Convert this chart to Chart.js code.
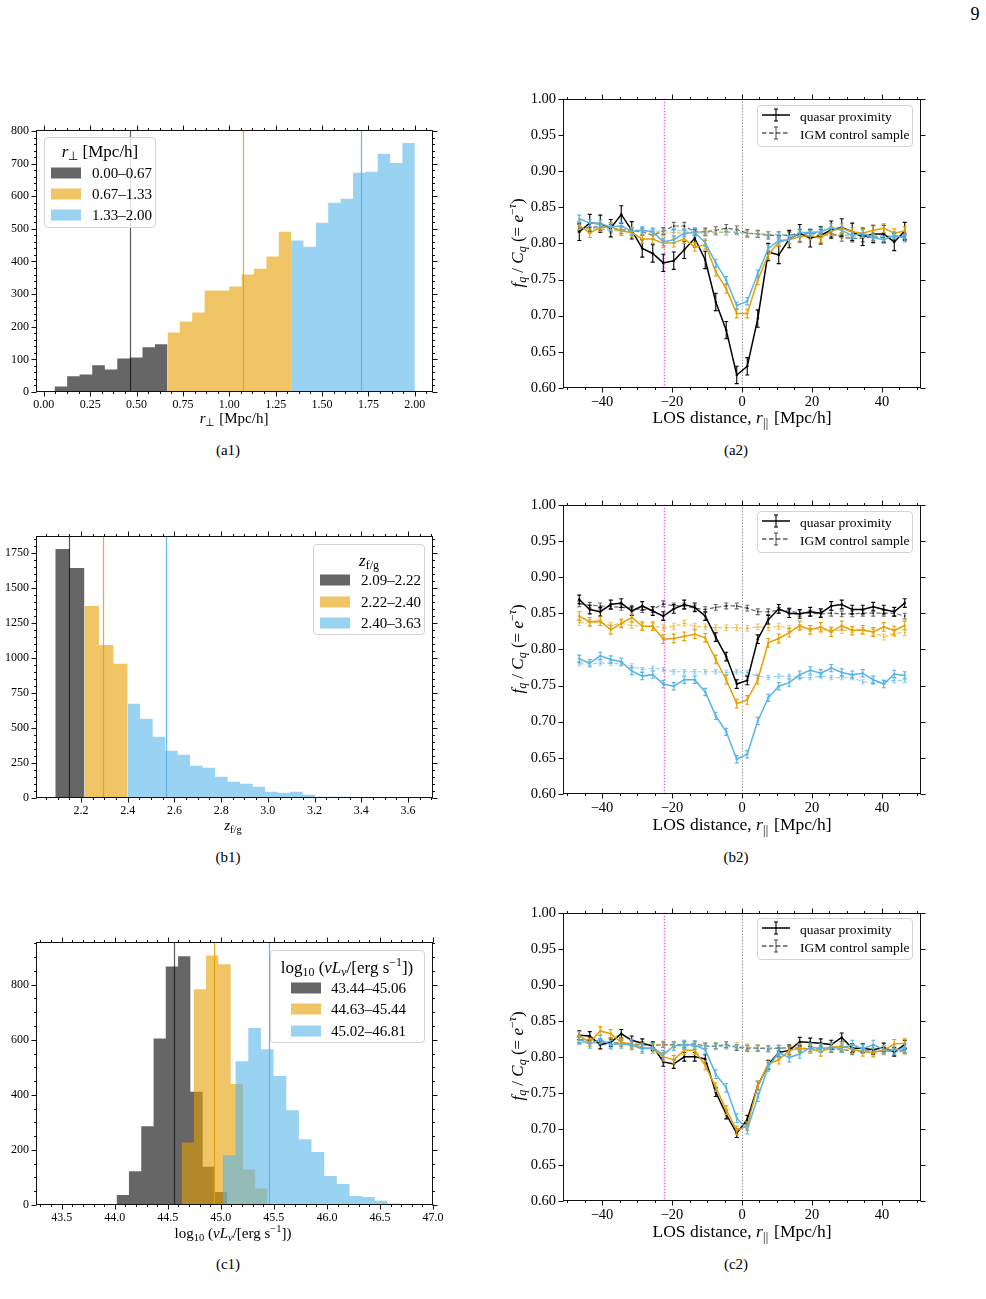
<!DOCTYPE html>
<html>
<head>
<meta charset="utf-8">
<title>Proximity effect panels</title>
<script src="https://cdn.jsdelivr.net/npm/chart.js@4.4.1/dist/chart.umd.min.js"></script>
<style>
  body { margin: 0; background: #fff; font-family: "Liberation Serif", "Times New Roman", serif; color: #000; }
  #page { position: relative; width: 986px; height: 1299px; overflow: hidden; }
  canvas { position: absolute; }
  .t { position: absolute; white-space: nowrap; transform: translate(-50%, -50%); line-height: 1; }
  .rot { transform: translate(-50%, -50%) rotate(-90deg); }
  sub, sup { font-size: 70%; line-height: 0; }
  sub { vertical-align: -0.3em; }
  sup { vertical-align: 0.55em; }
  .par { letter-spacing: 0.03em; margin-right: 0.1em; }
  .leg { position: absolute; background: rgba(255,255,255,0.8); border: 1px solid #d4d4d4; border-radius: 4px; box-sizing: border-box; z-index: 2; }
  .lt { position: absolute; transform: translate(-50%, -50%); font-size: 17px; white-space: nowrap; line-height: 1; }
  .lr { position: absolute; transform: translateY(-50%); font-size: 15px; white-space: nowrap; line-height: 1; }
  .sw { position: absolute; width: 30px; height: 11px; transform: translateY(-50%); }
  .rl { position: absolute; transform: translateY(-50%); font-size: 13.5px; white-space: nowrap; line-height: 1; }
  .sym { position: absolute; transform: translateY(-50%); }
</style>
</head>
<body>
<div id="page">
  <div class="t" style="left:975px;top:14px;font-size:18px">9</div>
  <canvas id="a1"></canvas>
  <canvas id="a2"></canvas>
  <canvas id="b1"></canvas>
  <canvas id="b2"></canvas>
  <canvas id="c1"></canvas>
  <canvas id="c2"></canvas>

  <div class="t" style="left:234px;top:418px;font-size:15px"><i>r</i><sub>⊥</sub> [Mpc/h]</div>
  <div class="t" style="left:233px;top:825px;font-size:15px"><i>z</i><sub>f/g</sub></div>
  <div class="t" style="left:233px;top:1233px;font-size:15px">log<sub>10</sub> (<i>νL</i><sub><i>ν</i></sub>/[erg s<sup>−1</sup>])</div>

  <div class="t" style="left:742px;top:418px;font-size:17.5px">LOS distance, <i>r</i><sub class="par">||</sub> [Mpc/h]</div>
  <div class="t" style="left:742px;top:825px;font-size:17.5px">LOS distance, <i>r</i><sub class="par">||</sub> [Mpc/h]</div>
  <div class="t" style="left:742px;top:1232px;font-size:17.5px">LOS distance, <i>r</i><sub class="par">||</sub> [Mpc/h]</div>

  <div class="t rot" style="left:517px;top:243px;font-size:17px"><i>f</i><sub><i>q</i></sub> / <i>C</i><sub><i>q</i></sub> (= <i>e</i><sup>−<i>τ</i></sup>)</div>
  <div class="t rot" style="left:517px;top:649px;font-size:17px"><i>f</i><sub><i>q</i></sub> / <i>C</i><sub><i>q</i></sub> (= <i>e</i><sup>−<i>τ</i></sup>)</div>
  <div class="t rot" style="left:517px;top:1056px;font-size:17px"><i>f</i><sub><i>q</i></sub> / <i>C</i><sub><i>q</i></sub> (= <i>e</i><sup>−<i>τ</i></sup>)</div>

  <div class="t" style="left:228px;top:450px;font-size:15px">(a1)</div>
  <div class="t" style="left:736px;top:450px;font-size:15px">(a2)</div>
  <div class="t" style="left:228px;top:857px;font-size:15px">(b1)</div>
  <div class="t" style="left:736px;top:857px;font-size:15px">(b2)</div>
  <div class="t" style="left:228px;top:1264px;font-size:15px">(c1)</div>
  <div class="t" style="left:736px;top:1264px;font-size:15px">(c2)</div>
</div>

<script>
"use strict";

// ---------- histogram data (bin edges + counts per group) ----------
const a1EdgesDark = [0.058, 0.126, 0.193, 0.261, 0.329, 0.396, 0.464, 0.532, 0.599, 0.667];
const a1EdgesOrange = [0.667, 0.733, 0.800, 0.867, 0.933, 1.000, 1.067, 1.133, 1.200, 1.267, 1.333];
const a1EdgesBlue = [1.333, 1.400, 1.467, 1.533, 1.600, 1.667, 1.733, 1.800, 1.867, 1.933, 2.000];
const a1CountsDark = [17, 48, 54, 82, 69, 103, 106, 137, 146];
const a1CountsOrange = [182, 216, 244, 311, 311, 323, 360, 378, 415, 491];
const a1CountsBlue = [464, 445, 519, 580, 592, 672, 675, 730, 702, 763];
const a1Medians = [0.466, 1.074, 1.709];
const a1Ranges = ["0.00–0.67", "0.67–1.33", "1.33–2.00"];

const b1EdgesDark = [2.090, 2.152, 2.215];
const b1EdgesOrange = [2.215, 2.277, 2.339, 2.400];
const b1EdgesBlue = [2.400, 2.453, 2.507, 2.560, 2.614, 2.667, 2.721, 2.774, 2.828, 2.881, 2.935, 2.988,
                     3.042, 3.095, 3.149, 3.202, 3.256, 3.309, 3.363, 3.416, 3.470, 3.523, 3.577, 3.630];
const b1CountsDark = [1776, 1641];
const b1CountsOrange = [1370, 1092, 957];
const b1CountsBlue = [672, 565, 437, 337, 309, 230, 216, 152, 116, 102, 81, 45, 38, 45, 24, 9, 9, 9, 0, 7, 0, 1, 1];
const b1Medians = [2.147, 2.2955, 2.565];
const b1Ranges = ["2.09–2.22", "2.22–2.40", "2.40–3.63"];

const c1EdgesDark = [43.440, 43.556, 43.671, 43.787, 43.903, 44.019, 44.134, 44.250, 44.366, 44.481,
                     44.597, 44.713, 44.829, 44.944, 45.060];
const c1EdgesOrange = [44.630, 44.746, 44.861, 44.977, 45.093, 45.209, 45.324, 45.440];
const c1EdgesBlue = [45.020, 45.139, 45.259, 45.378, 45.497, 45.617, 45.736, 45.855, 45.975, 46.094,
                     46.213, 46.333, 46.452, 46.571, 46.691, 46.810];
const c1CountsDark = [1, 0, 1, 3, 4, 36, 123, 286, 605, 866, 903, 411, 139, 47];
const c1CountsOrange = [227, 783, 906, 874, 439, 129, 60];
const c1CountsBlue = [181, 522, 643, 566, 468, 344, 239, 192, 105, 76, 33, 29, 15, 5, 4];
const c1Medians = [44.56, 44.94, 45.45];
const c1Ranges = ["43.44–45.06", "44.63–45.44", "45.02–46.81"];

// ---------- transmission profiles ----------
const rPar = [-46.5, -43.5, -40.5, -37.5, -34.5, -31.5, -28.5, -25.5, -22.5, -19.5, -16.5, -13.5, -10.5, -7.5, -4.5, -1.5,
              1.5, 4.5, 7.5, 10.5, 13.5, 16.5, 19.5, 22.5, 25.5, 28.5, 31.5, 34.5, 37.5, 40.5, 43.5, 46.5];
const refLines = [-22.2, 0];

const a2QsoDark = [0.816, 0.828, 0.827, 0.821, 0.840, 0.818, 0.793, 0.786, 0.773, 0.776, 0.791, 0.807, 0.777, 0.719, 0.680, 0.618,
                   0.630, 0.696, 0.788, 0.784, 0.806, 0.814, 0.807, 0.811, 0.819, 0.822, 0.816, 0.809, 0.813, 0.813, 0.802, 0.817];
const a2QsoOrange = [0.825, 0.814, 0.822, 0.823, 0.817, 0.815, 0.806, 0.806, 0.800, 0.801, 0.806, 0.795, 0.798, 0.761, 0.737, 0.703,
                     0.703, 0.749, 0.784, 0.802, 0.805, 0.809, 0.811, 0.807, 0.817, 0.821, 0.816, 0.814, 0.818, 0.821, 0.814, 0.817];
const a2QsoBlue = [0.834, 0.828, 0.827, 0.823, 0.824, 0.817, 0.818, 0.816, 0.802, 0.805, 0.814, 0.815, 0.801, 0.773, 0.749, 0.714,
                   0.720, 0.758, 0.793, 0.804, 0.805, 0.815, 0.815, 0.816, 0.822, 0.818, 0.811, 0.814, 0.808, 0.805, 0.811, 0.807];
const a2IgmDark = [0.821, 0.822, 0.823, 0.821, 0.819, 0.817, 0.816, 0.811, 0.817, 0.824, 0.824, 0.816, 0.816, 0.818, 0.821, 0.819,
                   0.814, 0.813, 0.811, 0.811, 0.811, 0.814, 0.814, 0.814, 0.814, 0.808, 0.807, 0.807, 0.809, 0.808, 0.810, 0.809];
const a2IgmOrange = [0.819, 0.818, 0.820, 0.818, 0.817, 0.817, 0.816, 0.815, 0.814, 0.815, 0.814, 0.815, 0.814, 0.815, 0.815, 0.816,
                     0.814, 0.813, 0.812, 0.812, 0.811, 0.812, 0.813, 0.812, 0.812, 0.811, 0.812, 0.811, 0.810, 0.811, 0.810, 0.811];
const a2IgmBlue = [0.821, 0.820, 0.820, 0.819, 0.819, 0.818, 0.818, 0.817, 0.817, 0.818, 0.817, 0.816, 0.816, 0.816, 0.816, 0.815,
                   0.814, 0.813, 0.813, 0.812, 0.812, 0.812, 0.812, 0.811, 0.811, 0.811, 0.810, 0.810, 0.810, 0.809, 0.809, 0.809];
const a2QsoErr = [0.012, 0.006, 0.005];
const a2IgmErr = [0.005, 0.004, 0.003];

const b2QsoDark = [0.869, 0.855, 0.852, 0.862, 0.864, 0.853, 0.860, 0.853, 0.846, 0.856, 0.862, 0.858, 0.846, 0.817, 0.790, 0.752,
                   0.757, 0.814, 0.841, 0.856, 0.850, 0.849, 0.852, 0.850, 0.860, 0.862, 0.855, 0.855, 0.859, 0.855, 0.852, 0.864];
const b2QsoOrange = [0.846, 0.838, 0.839, 0.827, 0.836, 0.844, 0.832, 0.832, 0.814, 0.815, 0.818, 0.821, 0.816, 0.786, 0.758, 0.725,
                     0.730, 0.758, 0.809, 0.815, 0.823, 0.833, 0.827, 0.831, 0.824, 0.833, 0.826, 0.827, 0.824, 0.831, 0.826, 0.833];
const b2QsoBlue = [0.787, 0.781, 0.791, 0.786, 0.783, 0.770, 0.763, 0.765, 0.752, 0.749, 0.758, 0.758, 0.741, 0.708, 0.686, 0.648,
                   0.655, 0.701, 0.733, 0.749, 0.754, 0.765, 0.771, 0.767, 0.774, 0.768, 0.765, 0.767, 0.758, 0.752, 0.766, 0.764];
const b2IgmDark = [0.863, 0.861, 0.860, 0.859, 0.858, 0.857, 0.855, 0.855, 0.863, 0.860, 0.860, 0.857, 0.855, 0.858, 0.860, 0.860,
                   0.857, 0.852, 0.852, 0.854, 0.853, 0.850, 0.850, 0.849, 0.850, 0.849, 0.849, 0.850, 0.850, 0.850, 0.850, 0.846];
const b2IgmOrange = [0.837, 0.837, 0.837, 0.833, 0.836, 0.833, 0.832, 0.832, 0.830, 0.832, 0.836, 0.832, 0.831, 0.830, 0.830, 0.830,
                     0.829, 0.831, 0.830, 0.832, 0.829, 0.830, 0.829, 0.827, 0.827, 0.826, 0.827, 0.826, 0.824, 0.817, 0.822, 0.823];
const b2IgmBlue = [0.780, 0.780, 0.781, 0.781, 0.780, 0.777, 0.772, 0.774, 0.772, 0.769, 0.769, 0.769, 0.769, 0.769, 0.768, 0.769,
                   0.768, 0.763, 0.761, 0.763, 0.763, 0.761, 0.761, 0.763, 0.761, 0.761, 0.761, 0.755, 0.754, 0.755, 0.757, 0.757];
const b2QsoErr = [0.006, 0.006, 0.005];
const b2IgmErr = [0.004, 0.004, 0.003];

const c2QsoDark = [0.830, 0.829, 0.817, 0.820, 0.832, 0.823, 0.819, 0.815, 0.793, 0.790, 0.800, 0.800, 0.797, 0.751, 0.720, 0.694,
                   0.713, 0.760, 0.789, 0.806, 0.809, 0.821, 0.820, 0.819, 0.817, 0.827, 0.812, 0.812, 0.810, 0.813, 0.807, 0.817];
const c2QsoOrange = [0.829, 0.820, 0.836, 0.832, 0.820, 0.818, 0.813, 0.811, 0.800, 0.796, 0.809, 0.809, 0.788, 0.758, 0.726, 0.698,
                     0.704, 0.760, 0.790, 0.796, 0.809, 0.812, 0.811, 0.807, 0.813, 0.815, 0.811, 0.807, 0.806, 0.809, 0.818, 0.819];
const c2QsoBlue = [0.824, 0.818, 0.824, 0.817, 0.818, 0.816, 0.811, 0.813, 0.803, 0.815, 0.817, 0.816, 0.810, 0.776, 0.757, 0.715,
                   0.699, 0.744, 0.786, 0.806, 0.799, 0.804, 0.813, 0.812, 0.813, 0.812, 0.817, 0.811, 0.817, 0.810, 0.809, 0.812];
const c2IgmDark = [0.824, 0.823, 0.821, 0.820, 0.819, 0.818, 0.817, 0.816, 0.817, 0.817, 0.817, 0.818, 0.815, 0.815, 0.817, 0.813,
                   0.812, 0.812, 0.811, 0.812, 0.813, 0.812, 0.811, 0.811, 0.810, 0.811, 0.807, 0.809, 0.807, 0.809, 0.807, 0.809];
const c2IgmOrange = [0.823, 0.822, 0.820, 0.820, 0.819, 0.818, 0.817, 0.816, 0.818, 0.816, 0.816, 0.816, 0.815, 0.815, 0.815, 0.816,
                     0.814, 0.813, 0.812, 0.812, 0.812, 0.811, 0.811, 0.810, 0.811, 0.810, 0.809, 0.809, 0.808, 0.808, 0.807, 0.807];
const c2IgmBlue = [0.820, 0.819, 0.819, 0.818, 0.818, 0.817, 0.817, 0.816, 0.816, 0.816, 0.815, 0.815, 0.815, 0.814, 0.814, 0.814,
                   0.813, 0.812, 0.812, 0.812, 0.811, 0.811, 0.811, 0.810, 0.810, 0.810, 0.809, 0.809, 0.809, 0.808, 0.808, 0.808];
const c2QsoErr = [0.006, 0.006, 0.006];
const c2IgmErr = [0.004, 0.004, 0.003];

// ---------- style ----------
const FONT = '"Liberation Serif", "Times New Roman", serif';
const HIST = ["rgba(0,0,0,0.6)", "rgba(230,159,0,0.6)", "rgba(86,180,233,0.6)"];
const MED = ["rgba(0,0,0,0.65)", "rgba(230,159,0,0.85)", "rgba(86,180,233,0.95)"];
const SOLID = ["#000000", "#E69F00", "#56B4E9"];
const FADED = ["rgba(0,0,0,0.6)", "rgba(230,159,0,0.6)", "rgba(86,180,233,0.6)"];

const page = document.getElementById("page");

// frame with outward major/minor ticks on all four sides
const framePlugin = {
    id: "frame",
    afterDraw(chart, args, opts) {
        const {ctx, chartArea: a} = chart;
        const sx = chart.scales.x, sy = chart.scales.y;
        const L = Math.round(a.left) + 0.5, R = Math.round(a.right) - 0.5;
        const T = Math.round(a.top) + 0.5, B = Math.round(a.bottom) - 0.5;
        ctx.save();
        ctx.strokeStyle = "#111";
        ctx.lineWidth = 1;
        ctx.strokeRect(L, T, R - L, B - T);

        const majorX = sx.ticks.map(t => t.value), majorY = sy.ticks.map(t => t.value);
        const minors = (scale, step, majors) => {
            const out = [];
            if (!step) return out;
            for (let k = Math.ceil(scale.min / step); k * step <= scale.max + 1e-9; k++) {
                const v = k * step;
                if (!majors.some(m => Math.abs(m - v) < step * 1e-3)) out.push(v);
            }
            return out;
        };
        const drawX = (vals, len) => vals.forEach(v => {
            const p = Math.round(sx.getPixelForValue(v)) + 0.5;
            ctx.moveTo(p, B); ctx.lineTo(p, B + len);
            ctx.moveTo(p, T); ctx.lineTo(p, T - len);
        });
        const drawY = (vals, len) => vals.forEach(v => {
            const p = Math.round(sy.getPixelForValue(v)) + 0.5;
            ctx.moveTo(L, p); ctx.lineTo(L - len, p);
            ctx.moveTo(R, p); ctx.lineTo(R + len, p);
        });
        ctx.beginPath();
        drawX(majorX, 5);
        drawY(majorY, 5);
        drawX(minors(sx, opts.xMinor, majorX), 2.5);
        drawY(minors(sy, opts.yMinor, majorY), 2.5);
        ctx.stroke();
        ctx.restore();
    }
};

// full-height vertical reference lines
const drawVlines = (chart, opts) => {
    const {ctx, chartArea: a} = chart;
    const sx = chart.scales.x;
    ctx.save();
    opts.lines.forEach(l => {
        const p = Math.round(sx.getPixelForValue(l.x)) + 0.5;
        ctx.beginPath();
        ctx.strokeStyle = l.color;
        ctx.lineWidth = l.width;
        ctx.setLineDash(l.dash || []);
        ctx.moveTo(p, a.top);
        ctx.lineTo(p, a.bottom);
        ctx.stroke();
    });
    ctx.restore();
};
const vlinePlugin = {
    id: "vlines",
    beforeDatasetsDraw(chart, args, opts) { if (!opts.after) drawVlines(chart, opts); },
    afterDatasetsDraw(chart, args, opts) { if (opts.after) drawVlines(chart, opts); }
};

// vertical error bars with caps, drawn right after their line
const errorBarPlugin = {
    id: "errorBars",
    afterDatasetDraw(chart, args) {
        const ds = chart.data.datasets[args.index];
        if (!ds.err) return;
        const ctx = chart.ctx, sy = chart.scales.y;
        ctx.save();
        ctx.strokeStyle = ds.borderColor;
        ctx.lineWidth = 1.1;
        ctx.setLineDash([]);
        ctx.beginPath();
        args.meta.data.forEach((pt, i) => {
            const v = ds.data[i].y;
            const top = sy.getPixelForValue(v + ds.err), bot = sy.getPixelForValue(v - ds.err);
            ctx.moveTo(pt.x, top); ctx.lineTo(pt.x, bot);
            ctx.moveTo(pt.x - 2, top); ctx.lineTo(pt.x + 2, top);
            ctx.moveTo(pt.x - 2, bot); ctx.lineTo(pt.x + 2, bot);
        });
        ctx.stroke();
        ctx.restore();
    }
};

const place = (id, L, T, W, H, area) => {
    const cv = document.getElementById(id);
    cv.width = W;
    cv.height = H;
    cv.style.left = L + "px";
    cv.style.top = T + "px";
    return {
        cv,
        pad: {top: area[1] - T, right: L + W - area[2], left: 0, bottom: 0},
        yW: area[0] - L,
        xH: T + H - area[3]
    };
};

const axis = (min, max, ticks, fmt, size, pad, key, val) => ({
    type: "linear",
    min, max,
    grid: {display: false, drawTicks: false},
    border: {display: false},
    afterBuildTicks: s => { s.ticks = ticks.map(v => ({value: v})); },
    afterFit: s => { s[key] = val; },
    ticks: {font: {family: FONT, size}, color: "#000", padding: pad, maxRotation: 0, autoSkip: false, callback: fmt}
});

const histChart = (id, geo, edges, counts, medians, xr, yr, xTicks, yTicks, xFmt, minor) => {
    const g = place(id, ...geo);
    const sets = counts.map((c, k) => {
        const pts = c.map((v, i) => ({x: edges[k][i], y: v}));
        pts.push({x: edges[k][c.length], y: c[c.length - 1]});
        return {
            data: pts, stepped: "before", fill: "origin",
            backgroundColor: HIST[k], borderColor: "rgba(0,0,0,0)", borderWidth: 0,
            pointRadius: 0, order: 3 - k
        };
    });
    new Chart(g.cv, {
        type: "line",
        data: {datasets: sets},
        options: {
            responsive: false,
            animation: false,
            events: [],
            layout: {padding: g.pad},
            scales: {
                x: axis(xr[0], xr[1], xTicks, xFmt, 12, 6, "height", g.xH),
                y: axis(yr[0], yr[1], yTicks, v => String(v), 12, 7, "width", g.yW)
            },
            plugins: {
                legend: {display: false},
                tooltip: {enabled: false},
                frame: {xMinor: minor[0], yMinor: minor[1]},
                vlines: {after: true, lines: medians.map((m, k) => ({x: m, color: MED[k], width: 1.2}))}
            }
        },
        plugins: [framePlugin, vlinePlugin]
    });
};

const profileChart = (id, geo, qso, igm, qsoErr, igmErr) => {
    const g = place(id, ...geo);
    const sets = [];
    igm.forEach((vals, k) => sets.push({
        data: rPar.map((x, i) => ({x, y: vals[i]})),
        borderColor: FADED[k], backgroundColor: FADED[k],
        borderWidth: 1.2, borderDash: [4.5, 2.5], pointRadius: 1, pointBorderWidth: 0,
        fill: false, tension: 0, err: igmErr[k]
    }));
    qso.forEach((vals, k) => sets.push({
        data: rPar.map((x, i) => ({x, y: vals[i]})),
        borderColor: SOLID[k], backgroundColor: SOLID[k],
        borderWidth: 1.5, pointRadius: 1.2, pointBorderWidth: 0,
        fill: false, tension: 0, err: qsoErr[k]
    }));
    sets.forEach((s, i) => { s.order = sets.length - i; });
    const minus = v => (v < 0 ? "\u2212" + Math.abs(v) : String(v));
    new Chart(g.cv, {
        type: "line",
        data: {datasets: sets},
        options: {
            responsive: false,
            animation: false,
            events: [],
            layout: {padding: g.pad},
            scales: {
                x: axis(-51.15, 51.15, [-40, -20, 0, 20, 40], minus, 14.5, 5, "height", g.xH),
                y: axis(0.6, 1.0, [0.60, 0.65, 0.70, 0.75, 0.80, 0.85, 0.90, 0.95, 1.00], v => v.toFixed(2), 14.5, 7, "width", g.yW)
            },
            plugins: {
                legend: {display: false},
                tooltip: {enabled: false},
                frame: {xMinor: 5, yMinor: 0},
                vlines: {after: false, lines: [
                    {x: refLines[0], color: "#e36be6", width: 1.5, dash: [1.5, 1.5]},
                    {x: refLines[1], color: "#666666", width: 1, dash: [1, 2]}
                ]}
            }
        },
        plugins: [framePlugin, vlinePlugin, errorBarPlugin]
    });
};

// ---------- legends (HTML overlays) ----------
const histLegend = (L, T, W, H, titleHtml, tx, ty, labels, swX, txtX, rows) => {
    const d = document.createElement("div");
    d.className = "leg";
    d.style.cssText = `left:${L}px;top:${T}px;width:${W}px;height:${H}px`;
    let html = `<div class="lt" style="left:${tx}px;top:${ty}px">${titleHtml}</div>`;
    labels.forEach((lab, k) => {
        html += `<span class="sw" style="left:${swX}px;top:${rows[k]}px;background:${HIST[k]}"></span>`;
        html += `<span class="lr" style="left:${txtX}px;top:${rows[k]}px">${lab}</span>`;
    });
    d.innerHTML = html;
    page.appendChild(d);
};

const errSym = (color, dashed) =>
    `<svg width="28" height="14" viewBox="0 0 28 14">` +
    `<line x1="0" y1="7" x2="28" y2="7" stroke="${color}" stroke-width="1.5"${dashed ? ' stroke-dasharray="4.5 2.5"' : ""}/>` +
    `<line x1="14" y1="1" x2="14" y2="13" stroke="${color}" stroke-width="1.1"/>` +
    `<line x1="12" y1="1" x2="16" y2="1" stroke="${color}" stroke-width="1.1"/>` +
    `<line x1="12" y1="13" x2="16" y2="13" stroke="${color}" stroke-width="1.1"/></svg>`;

const profileLegend = top => {
    const d = document.createElement("div");
    d.className = "leg";
    d.style.cssText = `left:757px;top:${top}px;width:156px;height:42px`;
    d.innerHTML =
        `<span class="sym" style="left:4px;top:10.5px">${errSym("#000", false)}</span>` +
        `<span class="rl" style="left:42px;top:10.5px">quasar proximity</span>` +
        `<span class="sym" style="left:4px;top:29px">${errSym("rgba(0,0,0,0.65)", true)}</span>` +
        `<span class="rl" style="left:42px;top:29px">IGM control sample</span>`;
    page.appendChild(d);
};

// ---------- build ----------
histChart("a1", [0, 115, 445, 302, [36, 130, 433, 392]],
    [a1EdgesDark, a1EdgesOrange, a1EdgesBlue], [a1CountsDark, a1CountsOrange, a1CountsBlue], a1Medians,
    [-0.042, 2.098], [0, 803],
    [0, 0.25, 0.5, 0.75, 1.0, 1.25, 1.5, 1.75, 2.0], [0, 100, 200, 300, 400, 500, 600, 700, 800],
    v => v.toFixed(2), [0.0625, 20]);

histChart("b1", [0, 521, 445, 302, [36, 536, 433, 798]],
    [b1EdgesDark, b1EdgesOrange, b1EdgesBlue], [b1CountsDark, b1CountsOrange, b1CountsBlue], b1Medians,
    [2.0075, 3.707], [0, 1869],
    [2.2, 2.4, 2.6, 2.8, 3.0, 3.2, 3.4, 3.6], [0, 250, 500, 750, 1000, 1250, 1500, 1750],
    v => v.toFixed(1), [0.05, 50]);

histChart("c1", [0, 927, 452, 303, [36, 942, 433, 1205]],
    [c1EdgesDark, c1EdgesOrange, c1EdgesBlue], [c1CountsDark, c1CountsOrange, c1CountsBlue], c1Medians,
    [43.258, 47.0], [0, 955],
    [43.5, 44.0, 44.5, 45.0, 45.5, 46.0, 46.5, 47.0], [0, 200, 400, 600, 800],
    v => v.toFixed(1), [0.1, 50]);

profileChart("a2", [500, 83, 435, 333, [563, 98, 921, 388]],
    [a2QsoDark, a2QsoOrange, a2QsoBlue], [a2IgmDark, a2IgmOrange, a2IgmBlue], a2QsoErr, a2IgmErr);
profileChart("b2", [500, 489, 435, 333, [563, 504, 921, 794]],
    [b2QsoDark, b2QsoOrange, b2QsoBlue], [b2IgmDark, b2IgmOrange, b2IgmBlue], b2QsoErr, b2IgmErr);
profileChart("c2", [500, 897, 435, 332, [563, 912, 921, 1201]],
    [c2QsoDark, c2QsoOrange, c2QsoBlue], [c2IgmDark, c2IgmOrange, c2IgmBlue], c2QsoErr, c2IgmErr);

histLegend(44, 137, 112, 91, "<i>r</i><sub>⊥</sub> [Mpc/h]", 55, 13, a1Ranges, 6, 47, [35, 56, 77]);
histLegend(313, 544, 112, 91, "<i>z</i><sub>f/g</sub>", 55, 15, b1Ranges, 6, 47, [35, 56.5, 77.5]);
histLegend(270, 950, 155, 93, "log<sub>10</sub> (<i>νL</i><sub><i>ν</i></sub>/[erg s<sup>−1</sup>])", 76, 15.5,
    c1Ranges, 20, 60, [37, 58, 79.5]);

profileLegend(105);
profileLegend(511);
profileLegend(918);
</script>
</body>
</html>
